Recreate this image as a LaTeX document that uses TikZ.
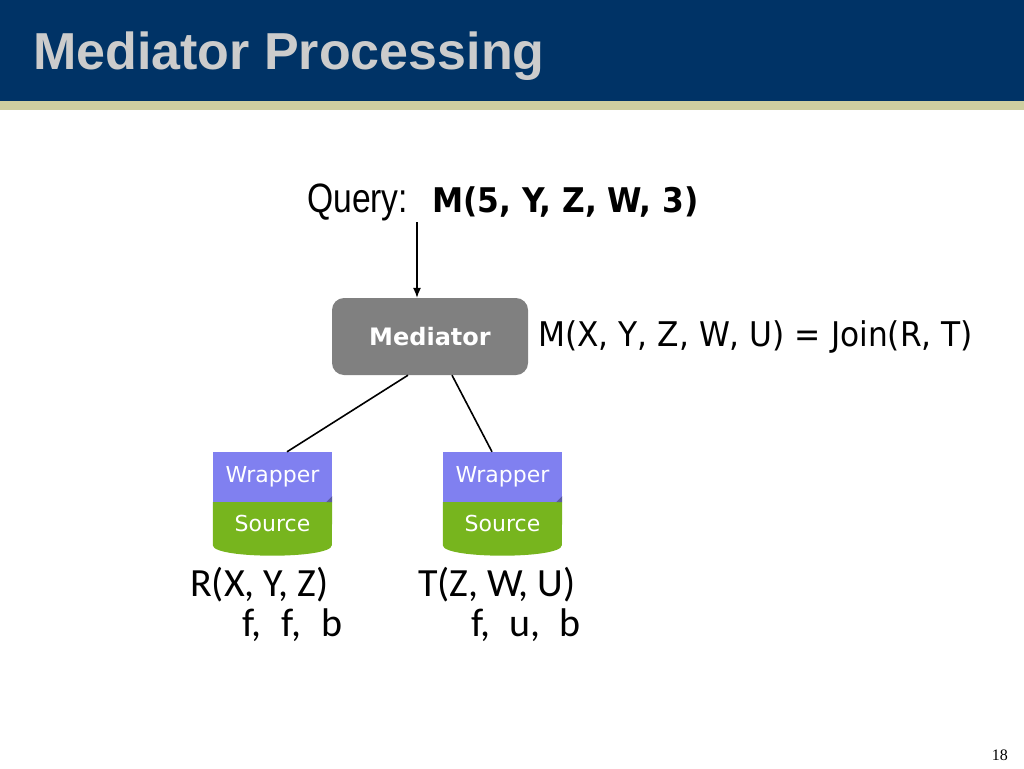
\documentclass[tikz,border=0pt]{standalone}
\usepackage{fontspec}
\usetikzlibrary{arrows.meta}
\setmainfont{Liberation Sans}
\newfontfamily\narrowfont[FakeStretch=0.82]{Liberation Sans}
\newfontfamily\tahomafont[FakeStretch=0.92]{DejaVu Sans}
\newfontfamily\verdanafont{DejaVu Sans}
\newfontfamily\calibrifont{Carlito}
\newfontfamily\timesfont{Liberation Serif}
\definecolor{hdrblue}{RGB}{0,51,102}
\definecolor{hdrkhaki}{RGB}{206,206,160}
\definecolor{titlegray}{RGB}{204,204,204}
\definecolor{medgray}{RGB}{128,128,128}
\definecolor{wrapblue}{RGB}{128,128,240}
\definecolor{wrapdark}{RGB}{90,90,160}
\definecolor{srcgreen}{RGB}{119,181,30}
\begin{document}
\begin{tikzpicture}[x=1pt, y=-1pt, every node/.style={inner sep=0pt},
    link/.style={line width=1.6pt},
    mediator/.style={fill=medgray, rounded corners=12pt, minimum width=196pt, minimum height=77pt,
        text=white, font={\verdanafont\bfseries\fontsize{24}{28}\selectfont}},
    wrapbox/.style={fill=wrapblue, minimum width=119pt, minimum height=50pt,
        text=white, font={\verdanafont\fontsize{22}{26}\selectfont}},
    srcbox/.style={minimum width=119pt, minimum height=43pt,
        text=white, font={\verdanafont\fontsize{22}{26}\selectfont}},
    rel/.style={anchor=base west, font={\calibrifont\fontsize{40}{48}\selectfont}}]
    \useasboundingbox (0,0) rectangle (1024,768);
    % Header
    \fill[hdrblue] (0,0) rectangle (1024,101);
    \fill[hdrkhaki] (0,101) rectangle (1024,110);
    \node[anchor=base west, text=titlegray, font={\bfseries\fontsize{52}{60}\selectfont}] (title) at (33,70) {Mediator Processing};

    % Query
    \node[anchor=base west, font={\narrowfont\fontsize{41}{49}\selectfont}] (query) at (307,212) {Query:};
    \node[anchor=base west, font={\tahomafont\bfseries\fontsize{34}{40}\selectfont}] (qterm) at (432,212) {M(5, Y, Z, W, 3)};

    % Mediator
    \node[mediator] (med) at (430,336.5) {Mediator};
    \node[anchor=base west, font={\tahomafont\fontsize{34}{40}\selectfont}] (mdef) at (538,346) {M(X, Y, Z, W, U) = Join(R, T)};
    \coordinate (qtip) at (417,222);
    \draw[link, line width=1.2pt, -{Latex[length=10pt,width=8pt]}] (qtip) -- (qtip |- med.north);

    % Wrappers and sources
    \foreach \n/\x in {L/272.5, R/502.5} {
        \node[wrapbox] (wrap\n) at (\x,477) {Wrapper};
        \fill[srcgreen] (wrap\n.south west) -- ++(0,43) .. controls +(0,14) and +(0,14) .. ++(119,0)
            -- (wrap\n.south east) -- cycle;
        \node[srcbox, anchor=north] (src\n) at (wrap\n.south) {Source};
        \fill[wrapdark] ([xshift=-6pt]wrap\n.south east) -- (wrap\n.south east) -- ([yshift=6pt]wrap\n.south east) -- cycle;
    }
    \draw[link] ([xshift=-22pt]med.south) -- ([xshift=14.5pt]wrapL.north);
    \draw[link] ([xshift=22pt]med.south) -- ([xshift=-10.5pt]wrapR.north);

    % Relations
    \node[rel] (relR) at (190,596) {R(X, Y, Z)};
    \node[rel] (bindR) at (242,636) {f,\hspace{20pt}f,\hspace{20pt}b};
    \node[rel] (relT) at (418,596) {T(Z, W, U)};
    \node[rel] (bindT) at (471,636) {f,\hspace{19pt}u,\hspace{19pt}b};

    \node[anchor=base east, font={\timesfont\fontsize{16}{19}\selectfont}] (page) at (1008,760) {18};
\end{tikzpicture}
\end{document}
